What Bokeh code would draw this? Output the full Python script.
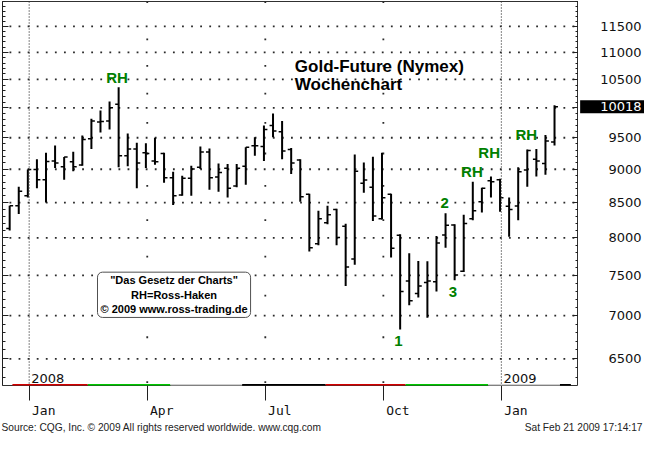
import math
import pandas as pd
from bokeh.plotting import figure
from bokeh.layouts import column, row
from bokeh.models import (ColumnDataSource, LogAxis, FixedTicker, LabelSet, Label,
                          BoxAnnotation, Span, CustomJSTickFormatter, Range1d)
from bokeh.core.properties import value
from bokeh.embed import file_html
from bokeh.resources import INLINE

# ---------------- data (weekly bars, Gold future, Nymex) ----------------
first_week = "2007-12-24"
opens = [8130, 8455, 8600, 8995, 8840, 9130, 9040, 9115, 9065, 9485,
         9760, 9775, 10060, 9210, 9320, 9260, 9130, 9245, 8870, 8610,
         8860, 9030, 9270, 8880, 9015, 8745, 9045, 9370, 9360, 9700,
         9600, 9310, 9145, 8620, 7920, 8210, 8400, 8160, 7715, 8785,
         8725, 8265, 8620, 8035, 7430, 7270, 7410, 7420, 8040, 8180,
         7555, 8265, 8510, 8825, 8840, 8445, 8450, 8990, 9155, 9090, 9430]
highs = [8455, 8735, 8995, 9155, 9260, 9375, 9190, 9275, 9535, 9815,
         9955, 10110, 10360, 9570, 9420, 9410, 9500, 9260, 8960, 8900,
         9055, 9360, 9325, 9090, 9080, 9080, 9345, 9510, 9700, 9905,
         9775, 9335, 9155, 8630, 8380, 8455, 8410, 8195, 9230, 9105,
         9195, 9260, 8630, 8050, 7790, 7690, 7685, 8025, 8345, 8190,
         8325, 8810, 8720, 8890, 8855, 8575, 9030, 9310, 9320, 9545, 10045]
lows = [8100, 8335, 8575, 8710, 8500, 9020, 8840, 8970, 9055, 9320,
        9585, 9635, 9030, 9045, 8710, 9020, 9070, 8795, 8465, 8600,
        8600, 9005, 8690, 8660, 8575, 8725, 8765, 9210, 9130, 9510,
        9155, 8925, 8510, 7815, 7900, 8190, 7900, 7365, 7640, 8645,
        8235, 8255, 7735, 6835, 7125, 7220, 6975, 7295, 7865, 7440,
        7545, 8245, 8355, 8575, 8365, 8015, 8245, 8735, 8890, 8915, 9375]
closes = [8455, 8665, 8995, 8840, 9120, 9095, 9190, 9040, 9470, 9775,
          9770, 10000, 9210, 9320, 9095, 9245, 9115, 8870, 8600, 8860,
          9005, 9270, 8870, 8950, 8710, 9015, 9345, 9370, 9635, 9610,
          9285, 9095, 8585, 7865, 8265, 8325, 8005, 7610, 8970, 8835,
          8305, 8570, 7860, 7295, 7180, 7365, 7430, 7930, 8175, 7505,
          8200, 8380, 8710, 8810, 8570, 8400, 8960, 9295, 9130, 9445, 10018]

price_ticks = [6500, 7000, 7500, 8000, 8500, 9000, 9500, 10000, 10500, 11000, 11500]
minor_ticks = list(range(6200, 12001, 100))
quarter_names = {1: "Jan", 4: "Apr", 7: "Jul", 10: "Oct"}

# chart annotations (bar position, price level, text)
ann_x = [11.83, 50.9, 52.8, 56.9, 47.9, 48.8, 42.8]
ann_y = [10540, 8967, 9255, 9554, 8496, 7286, 6699]
ann_text = ["RH", "RH", "RH", "RH", "2", "3", "1"]

# colour strip under the bars (week ranges)
strip_start = [0.3, 8.6, 17.7, 25.6, 34.8, 43.6, 52.7, 60.6]
strip_end = [8.6, 17.7, 25.6, 34.8, 43.6, 52.7, 60.6, 61.8]
strip_color = ["#d40000", "#00c800", "#d0d0d0", "#000000",
               "#d40000", "#00c800", "#d0d0d0", "#000000"]

title_lines = ["Gold-Future (Nymex)", "Wochenchart"]
note_text = '"Das Gesetz der Charts"\nRH=Ross-Haken\n\u00a9 2009 www.ross-trading.de'
source_text = "Source: CQG, Inc. \u00a9 2009 All rights reserved worldwide. www.cqg.com"
stamp_text = "Sat Feb 21 2009 17:14:17"

# ---------------- derived ----------------
n = len(closes)
weeks = pd.date_range(first_week, periods=n, freq="7D")
bar_x = list(range(n))
TICK = 0.38
LABEL_SHIFT = 1.6
X_START, X_END = -0.79, 62.64

q_x, q_lab, yr_x, yr_lab = [], [], [], []
for i, d in enumerate(weeks):
    if d.month in quarter_names and i > 0 and weeks[i - 1].month != d.month:
        q_x.append(i + 0.15)
        q_lab.append(quarter_names[d.month])
        if d.month == 1:
            yr_x.append(i + 0.15)
            yr_lab.append(str(d.year))
label_ticks = [v + LABEL_SHIFT for v in q_x]

# ---------------- sizes ----------------
W, H = 644, 433
RIGHT_W = 66
FOOT_H = 13
MAIN_W = W - RIGHT_W
MAIN_H = H - FOOT_H
BT, BB = 1, 20
FH = MAIN_H - BT - BB

common = dict(output_backend="svg", toolbar_location=None,
              background_fill_color="white", border_fill_color="white")

y_range = Range1d(6209, 12003)
p = figure(width=MAIN_W, height=MAIN_H, x_range=(X_START, X_END), y_range=y_range,
           y_axis_type="log", y_axis_location="right",
           min_border=0, min_border_left=2, min_border_right=0,
           min_border_top=BT, min_border_bottom=BB, **common)
p.outline_line_color = "#303030"

ticker = FixedTicker(ticks=price_ticks, minor_ticks=minor_ticks)
empty = CustomJSTickFormatter(code="return ''")

ry = p.yaxis[0]
ry.ticker = ticker
ry.formatter = empty
ry.major_tick_in = 6
ry.major_tick_out = 0
ry.minor_tick_in = 3
ry.minor_tick_out = 0
ry.major_label_standoff = 0
ry.axis_line_color = "#202020"
ry.major_tick_line_color = "#202020"
ry.minor_tick_line_color = "#202020"

ly = LogAxis(ticker=ticker, formatter=empty, major_tick_in=6, major_tick_out=0,
             minor_tick_in=3, minor_tick_out=0, major_label_standoff=0,
             axis_line_color="#202020", major_tick_line_color="#202020",
             minor_tick_line_color="#202020")
p.add_layout(ly, "left")

xa = p.xaxis[0]
xa.ticker = FixedTicker(ticks=label_ticks, minor_ticks=q_x)
xa.formatter = CustomJSTickFormatter(
    args=dict(names=q_lab, pos=label_ticks),
    code="const i = pos.findIndex(t => Math.abs(t - tick) < 1e-6); return i >= 0 ? names[i] : '';")
xa.major_tick_in = 0
xa.major_tick_out = 0
xa.minor_tick_in = 0
xa.minor_tick_out = 15
xa.major_label_standoff = 2
xa.axis_line_color = None
xa.major_tick_line_color = None
xa.minor_tick_line_color = "#202020"
xa.major_label_text_font = "DejaVu Sans Mono"
xa.major_label_text_font_size = "13px"
xa.major_label_text_color = "#111111"

p.grid.visible = False

# dotted price grid: one dot per week on every labelled price level
dot_x, dot_y = [], []
for pv in price_ticks:
    for wk in range(0, int(X_END) + 1):
        dot_x.append(wk + 0.08)
        dot_y.append(pv)
p.scatter(x=dot_x, y=dot_y, marker="square", size=1.8, fill_color="#2a2a2a",
          line_color=None, level="underlay")

# sparse dots on the quarter lines, midway between price levels
levels = [6000] + price_ticks + [12500]
mids = [math.sqrt(a * b) for a, b in zip(levels[:-1], levels[1:])]
qd_x, qd_y = [], []
for xv, lab in zip(q_x, q_lab):
    if lab != "Jan":
        for m in mids:
            qd_x.append(xv)
            qd_y.append(m)
p.scatter(x=qd_x, y=qd_y, marker="square", size=1.8, fill_color="#2a2a2a",
          line_color=None, level="underlay")

# dense dotted year lines
for xv, lab in zip(q_x, q_lab):
    if lab == "Jan":
        p.add_layout(Span(location=xv, dimension="height", line_color="#333333",
                          line_width=1.2, line_dash="1 2"))

# ---------------- OHLC bars ----------------
src = ColumnDataSource(dict(
    x=bar_x, o=opens, h=highs, l=lows, c=closes,
    xl=[v - TICK for v in bar_x], xr=[v + TICK for v in bar_x]))
p.segment(x0="x", y0="l", x1="x", y1="h", source=src, line_color="black", line_width=2)
p.segment(x0="xl", y0="o", x1="x", y1="o", source=src, line_color="black", line_width=1.5)
p.segment(x0="x", y0="c", x1="xr", y1="c", source=src, line_color="black", line_width=1.5)

# ---------------- strip ----------------
for s, e, col in zip(strip_start, strip_end, strip_color):
    p.add_layout(BoxAnnotation(left=s, right=e, left_units="data", right_units="data",
                               bottom=-0.5, top=1.5, bottom_units="screen", top_units="screen",
                               fill_color=col, fill_alpha=1, line_color=None))

# ---------------- texts inside plot ----------------
year_src = ColumnDataSource(dict(x=yr_x, t=yr_lab))
p.add_layout(LabelSet(x="x", y=3, y_units="screen", text="t", source=year_src,
                      x_offset=2, text_align="left", text_baseline="alphabetic",
                      text_font=value("DejaVu Sans"), text_font_size="13px",
                      text_color="#111111"))

ann_src = ColumnDataSource(dict(x=ann_x, y=ann_y, t=ann_text))
p.add_layout(LabelSet(x="x", y="y", text="t", source=ann_src, text_align="center",
                      text_baseline="middle", text_font=value("Liberation Sans"),
                      text_font_style="bold", text_font_size="15px", text_color="#008000"))

p.add_layout(Label(x=31.4, y=10742, text=title_lines[0], text_font="Liberation Sans",
                   text_font_style="bold", text_font_size="17px", text_color="black",
                   text_baseline="alphabetic"))
p.add_layout(Label(x=31.4, y=10407, text=title_lines[1], text_font="Liberation Sans",
                   text_font_style="bold", text_font_size="17px", text_color="black",
                   text_baseline="alphabetic"))

p.add_layout(Label(x=18.1, y=7255, text=note_text, text_align="center", text_baseline="middle",
                   text_font="Liberation Sans", text_font_style="bold", text_font_size="11px",
                   text_line_height=1.22, text_color="black",
                   background_fill_color="white", background_fill_alpha=1,
                   border_line_color="#505050", border_line_width=1, border_radius=5,
                   padding=dict(left=3, right=3, top=2, bottom=2)))

# ---------------- right price scale (shares the log y scale) ----------------
rp = figure(width=RIGHT_W, height=MAIN_H, x_range=(0, 1), y_range=y_range,
            y_axis_type="log", x_axis_location=None, y_axis_location=None,
            min_border=0, min_border_top=BT, min_border_bottom=BB, **common)
rp.outline_line_color = None
rp.grid.visible = False
price_src = ColumnDataSource(dict(y=price_ticks, t=[str(v) for v in price_ticks]))
rp.text(x=0.955, y="y", text="t", source=price_src, text_align="right",
        text_baseline="middle", text_font=value("DejaVu Sans"),
        text_font_size="13px", text_color="#111111")
last_src = ColumnDataSource(dict(y=[closes[-1]], t=[str(closes[-1])]))
rp.rect(x=0.51, y="y", width=0.97, height=13, height_units="screen", source=last_src,
        fill_color="black", line_color=None)
rp.text(x=0.955, y="y", text="t", source=last_src, text_align="right",
        text_baseline="middle", text_font=value("DejaVu Sans"),
        text_font_size="13px", text_color="white")
rp.add_layout(BoxAnnotation(left=0, right=RIGHT_W, bottom=FH - 1, top=FH + 1,
                            left_units="screen", right_units="screen",
                            bottom_units="screen", top_units="screen",
                            fill_color="#303030", fill_alpha=1, line_color=None))

# ---------------- footer ----------------
ft = figure(width=W, height=FOOT_H, x_range=(0, W), y_range=(0, 1),
            x_axis_location=None, y_axis_location=None, min_border=0, **common)
ft.outline_line_color = None
ft.grid.visible = False
foot_src = ColumnDataSource(dict(x=[1, W - 2], t=[source_text, stamp_text],
                                 a=["left", "right"]))
ft.text(x="x", y=0.5, text="t", source=foot_src, text_align="a", text_baseline="middle",
        text_font=value("Liberation Sans"), text_font_size="10.2px", text_color="#222222")

layout = column(row(p, rp, spacing=0), ft, spacing=0)
open("out.html", "w", encoding="utf-8").write(file_html(layout, INLINE))
